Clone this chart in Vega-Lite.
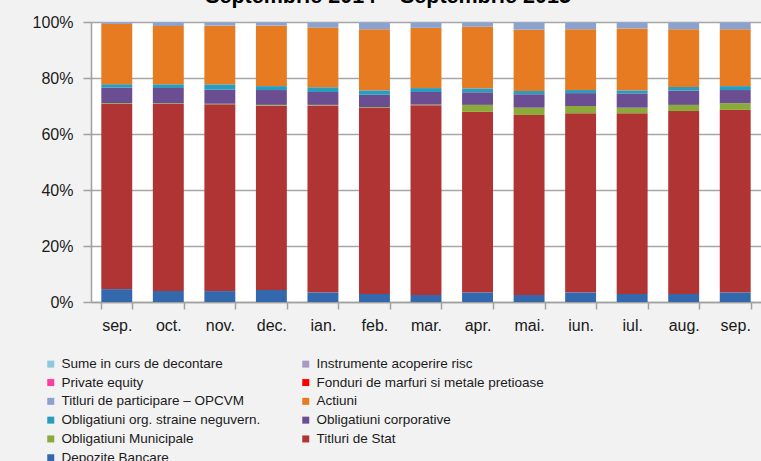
{
  "$schema": "https://vega.github.io/schema/vega-lite/v6.json",
  "autosize": {"type": "none"},
  "width": 670,
  "height": 280,
  "padding": {"left": 91, "top": 22, "right": 0, "bottom": 159},
  "background": "#f2f2f2",
  "title": {
    "text": "Septembrie 2014 – Septembrie 2015",
    "frame": "group",
    "font": "Liberation Sans",
    "fontSize": 21.5,
    "fontWeight": "bold",
    "color": "#000000",
    "baseline": "alphabetic",
    "offset": 2,
    "dx": -38,
    "dy": 12
  },
  "datasets": {
    "rank": [
      {"cat": "Depozite Bancare", "k": 1},
      {"cat": "Titluri de Stat", "k": 2},
      {"cat": "Obligatiuni Municipale", "k": 3},
      {"cat": "Obligatiuni corporative", "k": 4},
      {"cat": "Obligatiuni org. straine neguvern.", "k": 5},
      {"cat": "Actiuni", "k": 6},
      {"cat": "Fonduri de marfuri si metale pretioase", "k": 7},
      {"cat": "Titluri de participare – OPCVM", "k": 8},
      {"cat": "Private equity", "k": 9},
      {"cat": "Instrumente acoperire risc", "k": 10},
      {"cat": "Sume in curs de decontare", "k": 11}
    ]
  },
  "data": {
    "values": [
      {"luna": "sep.|2014", "cat": "Depozite Bancare", "v": 4.6},
      {"luna": "sep.|2014", "cat": "Titluri de Stat", "v": 66.1},
      {"luna": "sep.|2014", "cat": "Obligatiuni Municipale", "v": 0.3},
      {"luna": "sep.|2014", "cat": "Obligatiuni corporative", "v": 5.5},
      {"luna": "sep.|2014", "cat": "Obligatiuni org. straine neguvern.", "v": 1.25},
      {"luna": "sep.|2014", "cat": "Actiuni", "v": 21.5},
      {"luna": "sep.|2014", "cat": "Titluri de participare – OPCVM", "v": 0.5},
      {"luna": "sep.|2014", "cat": "Instrumente acoperire risc", "v": 0.1},
      {"luna": "sep.|2014", "cat": "Sume in curs de decontare", "v": 0.1},

      {"luna": "oct.|2014", "cat": "Depozite Bancare", "v": 3.9},
      {"luna": "oct.|2014", "cat": "Titluri de Stat", "v": 66.8},
      {"luna": "oct.|2014", "cat": "Obligatiuni Municipale", "v": 0.3},
      {"luna": "oct.|2014", "cat": "Obligatiuni corporative", "v": 5.4},
      {"luna": "oct.|2014", "cat": "Obligatiuni org. straine neguvern.", "v": 1.35},
      {"luna": "oct.|2014", "cat": "Actiuni", "v": 20.85},
      {"luna": "oct.|2014", "cat": "Titluri de participare – OPCVM", "v": 1.2},
      {"luna": "oct.|2014", "cat": "Instrumente acoperire risc", "v": 0.1},
      {"luna": "oct.|2014", "cat": "Sume in curs de decontare", "v": 0.1},

      {"luna": "nov.|2014", "cat": "Depozite Bancare", "v": 3.9},
      {"luna": "nov.|2014", "cat": "Titluri de Stat", "v": 66.7},
      {"luna": "nov.|2014", "cat": "Obligatiuni Municipale", "v": 0.2},
      {"luna": "nov.|2014", "cat": "Obligatiuni corporative", "v": 5.0},
      {"luna": "nov.|2014", "cat": "Obligatiuni org. straine neguvern.", "v": 1.95},
      {"luna": "nov.|2014", "cat": "Actiuni", "v": 20.95},
      {"luna": "nov.|2014", "cat": "Titluri de participare – OPCVM", "v": 1.1},
      {"luna": "nov.|2014", "cat": "Instrumente acoperire risc", "v": 0.1},
      {"luna": "nov.|2014", "cat": "Sume in curs de decontare", "v": 0.1},

      {"luna": "dec.|2014", "cat": "Depozite Bancare", "v": 4.3},
      {"luna": "dec.|2014", "cat": "Titluri de Stat", "v": 65.8},
      {"luna": "dec.|2014", "cat": "Obligatiuni Municipale", "v": 0.3},
      {"luna": "dec.|2014", "cat": "Obligatiuni corporative", "v": 5.3},
      {"luna": "dec.|2014", "cat": "Obligatiuni org. straine neguvern.", "v": 1.4},
      {"luna": "dec.|2014", "cat": "Actiuni", "v": 21.6},
      {"luna": "dec.|2014", "cat": "Titluri de participare – OPCVM", "v": 1.1},
      {"luna": "dec.|2014", "cat": "Instrumente acoperire risc", "v": 0.1},
      {"luna": "dec.|2014", "cat": "Sume in curs de decontare", "v": 0.1},

      {"luna": "ian.|2015", "cat": "Depozite Bancare", "v": 3.45},
      {"luna": "ian.|2015", "cat": "Titluri de Stat", "v": 66.75},
      {"luna": "ian.|2015", "cat": "Obligatiuni Municipale", "v": 0.2},
      {"luna": "ian.|2015", "cat": "Obligatiuni corporative", "v": 4.6},
      {"luna": "ian.|2015", "cat": "Obligatiuni org. straine neguvern.", "v": 1.7},
      {"luna": "ian.|2015", "cat": "Actiuni", "v": 21.3},
      {"luna": "ian.|2015", "cat": "Titluri de participare – OPCVM", "v": 1.8},
      {"luna": "ian.|2015", "cat": "Instrumente acoperire risc", "v": 0.1},
      {"luna": "ian.|2015", "cat": "Sume in curs de decontare", "v": 0.1},

      {"luna": "feb.|2015", "cat": "Depozite Bancare", "v": 2.85},
      {"luna": "feb.|2015", "cat": "Titluri de Stat", "v": 66.45},
      {"luna": "feb.|2015", "cat": "Obligatiuni Municipale", "v": 0.3},
      {"luna": "feb.|2015", "cat": "Obligatiuni corporative", "v": 4.4},
      {"luna": "feb.|2015", "cat": "Obligatiuni org. straine neguvern.", "v": 1.6},
      {"luna": "feb.|2015", "cat": "Actiuni", "v": 21.8},
      {"luna": "feb.|2015", "cat": "Titluri de participare – OPCVM", "v": 2.4},
      {"luna": "feb.|2015", "cat": "Instrumente acoperire risc", "v": 0.1},
      {"luna": "feb.|2015", "cat": "Sume in curs de decontare", "v": 0.1},

      {"luna": "mar.|2015", "cat": "Depozite Bancare", "v": 2.5},
      {"luna": "mar.|2015", "cat": "Titluri de Stat", "v": 67.8},
      {"luna": "mar.|2015", "cat": "Obligatiuni Municipale", "v": 0.2},
      {"luna": "mar.|2015", "cat": "Obligatiuni corporative", "v": 4.5},
      {"luna": "mar.|2015", "cat": "Obligatiuni org. straine neguvern.", "v": 1.4},
      {"luna": "mar.|2015", "cat": "Actiuni", "v": 21.5},
      {"luna": "mar.|2015", "cat": "Titluri de participare – OPCVM", "v": 1.9},
      {"luna": "mar.|2015", "cat": "Instrumente acoperire risc", "v": 0.1},
      {"luna": "mar.|2015", "cat": "Sume in curs de decontare", "v": 0.1},

      {"luna": "apr.|2015", "cat": "Depozite Bancare", "v": 3.45},
      {"luna": "apr.|2015", "cat": "Titluri de Stat", "v": 64.45},
      {"luna": "apr.|2015", "cat": "Obligatiuni Municipale", "v": 2.5},
      {"luna": "apr.|2015", "cat": "Obligatiuni corporative", "v": 4.5},
      {"luna": "apr.|2015", "cat": "Obligatiuni org. straine neguvern.", "v": 1.4},
      {"luna": "apr.|2015", "cat": "Actiuni", "v": 22.0},
      {"luna": "apr.|2015", "cat": "Titluri de participare – OPCVM", "v": 1.5},
      {"luna": "apr.|2015", "cat": "Instrumente acoperire risc", "v": 0.1},
      {"luna": "apr.|2015", "cat": "Sume in curs de decontare", "v": 0.1},

      {"luna": "mai.|2015", "cat": "Depozite Bancare", "v": 2.5},
      {"luna": "mai.|2015", "cat": "Titluri de Stat", "v": 64.3},
      {"luna": "mai.|2015", "cat": "Obligatiuni Municipale", "v": 2.6},
      {"luna": "mai.|2015", "cat": "Obligatiuni corporative", "v": 4.8},
      {"luna": "mai.|2015", "cat": "Obligatiuni org. straine neguvern.", "v": 1.2},
      {"luna": "mai.|2015", "cat": "Actiuni", "v": 21.85},
      {"luna": "mai.|2015", "cat": "Titluri de participare – OPCVM", "v": 2.55},
      {"luna": "mai.|2015", "cat": "Instrumente acoperire risc", "v": 0.1},
      {"luna": "mai.|2015", "cat": "Sume in curs de decontare", "v": 0.1},

      {"luna": "iun.|2015", "cat": "Depozite Bancare", "v": 3.45},
      {"luna": "iun.|2015", "cat": "Titluri de Stat", "v": 63.95},
      {"luna": "iun.|2015", "cat": "Obligatiuni Municipale", "v": 2.6},
      {"luna": "iun.|2015", "cat": "Obligatiuni corporative", "v": 4.6},
      {"luna": "iun.|2015", "cat": "Obligatiuni org. straine neguvern.", "v": 1.1},
      {"luna": "iun.|2015", "cat": "Actiuni", "v": 21.7},
      {"luna": "iun.|2015", "cat": "Titluri de participare – OPCVM", "v": 2.4},
      {"luna": "iun.|2015", "cat": "Instrumente acoperire risc", "v": 0.1},
      {"luna": "iun.|2015", "cat": "Sume in curs de decontare", "v": 0.1},

      {"luna": "iul.|2015", "cat": "Depozite Bancare", "v": 2.85},
      {"luna": "iul.|2015", "cat": "Titluri de Stat", "v": 64.55},
      {"luna": "iul.|2015", "cat": "Obligatiuni Municipale", "v": 2.0},
      {"luna": "iul.|2015", "cat": "Obligatiuni corporative", "v": 5.1},
      {"luna": "iul.|2015", "cat": "Obligatiuni org. straine neguvern.", "v": 1.1},
      {"luna": "iul.|2015", "cat": "Actiuni", "v": 22.1},
      {"luna": "iul.|2015", "cat": "Titluri de participare – OPCVM", "v": 2.1},
      {"luna": "iul.|2015", "cat": "Instrumente acoperire risc", "v": 0.1},
      {"luna": "iul.|2015", "cat": "Sume in curs de decontare", "v": 0.1},

      {"luna": "aug.|2015", "cat": "Depozite Bancare", "v": 2.85},
      {"luna": "aug.|2015", "cat": "Titluri de Stat", "v": 65.35},
      {"luna": "aug.|2015", "cat": "Obligatiuni Municipale", "v": 2.2},
      {"luna": "aug.|2015", "cat": "Obligatiuni corporative", "v": 5.1},
      {"luna": "aug.|2015", "cat": "Obligatiuni org. straine neguvern.", "v": 1.3},
      {"luna": "aug.|2015", "cat": "Actiuni", "v": 20.6},
      {"luna": "aug.|2015", "cat": "Titluri de participare – OPCVM", "v": 2.4},
      {"luna": "aug.|2015", "cat": "Instrumente acoperire risc", "v": 0.1},
      {"luna": "aug.|2015", "cat": "Sume in curs de decontare", "v": 0.1},

      {"luna": "sep.|2015", "cat": "Depozite Bancare", "v": 3.45},
      {"luna": "sep.|2015", "cat": "Titluri de Stat", "v": 65.15},
      {"luna": "sep.|2015", "cat": "Obligatiuni Municipale", "v": 2.4},
      {"luna": "sep.|2015", "cat": "Obligatiuni corporative", "v": 4.7},
      {"luna": "sep.|2015", "cat": "Obligatiuni org. straine neguvern.", "v": 1.4},
      {"luna": "sep.|2015", "cat": "Actiuni", "v": 20.3},
      {"luna": "sep.|2015", "cat": "Titluri de participare – OPCVM", "v": 2.4},
      {"luna": "sep.|2015", "cat": "Instrumente acoperire risc", "v": 0.1},
      {"luna": "sep.|2015", "cat": "Sume in curs de decontare", "v": 0.1}
    ]
  },
  "transform": [
    {"lookup": "cat", "from": {"data": {"name": "rank"}, "key": "cat", "fields": ["k"]}}
  ],
  "mark": {"type": "bar"},
  "encoding": {
    "x": {
      "field": "luna",
      "type": "ordinal",
      "sort": null,
      "scale": {"paddingInner": 0.4, "paddingOuter": 0.2},
      "axis": {
        "title": null,
        "labelExpr": "split(datum.label, '|')[0]",
        "labelAngle": 0,
        "labelFont": "Liberation Sans",
        "labelFontSize": 16,
        "labelColor": "#1a1a1a",
        "labelPadding": 8,
        "tickBand": "extent",
        "tickSize": 7,
        "tickColor": "#a0a0a0",
        "tickWidth": 1.5,
        "domainColor": "#a0a0a0",
        "domainWidth": 1.5,
        "grid": false
      }
    },
    "y": {
      "field": "v",
      "type": "quantitative",
      "stack": "normalize",
      "scale": {"domain": [0, 1], "nice": false},
      "axis": {
        "title": null,
        "values": [0, 0.2, 0.4, 0.6, 0.8, 1],
        "format": ".0%",
        "labelFont": "Liberation Sans",
        "labelFontSize": 16,
        "labelColor": "#1a1a1a",
        "labelPadding": 10,
        "tickSize": 8,
        "tickColor": "#a0a0a0",
        "tickWidth": 1.5,
        "domainColor": "#a0a0a0",
        "domainWidth": 1.5,
        "grid": true,
        "gridColor": "#a6a6a6",
        "gridWidth": 1.5
      }
    },
    "order": {"field": "k", "type": "quantitative", "sort": "ascending"},
    "color": {
      "field": "cat",
      "type": "nominal",
      "scale": {
        "domain": ["Sume in curs de decontare", "Private equity", "Titluri de participare – OPCVM", "Obligatiuni org. straine neguvern.", "Obligatiuni Municipale", "Depozite Bancare", "Instrumente acoperire risc", "Fonduri de marfuri si metale pretioase", "Actiuni", "Obligatiuni corporative", "Titluri de Stat"],
        "range": ["#8dc8dc", "#ff3ca0", "#8ba2cf", "#2b9cbd", "#8aaa3a", "#3468ad", "#a89ac6", "#ff0000", "#e67b22", "#6b4e92", "#b03434"]
      },
      "legend": {
        "title": null,
        "orient": "none",
        "legendX": -47,
        "legendY": 335,
        "columns": 2,
        "columnPadding": 38,
        "rowPadding": 3.8,
        "padding": 0,
        "symbolType": "square",
        "symbolSize": 49,
        "symbolStrokeWidth": 0,
        "labelOffset": 4,
        "labelFont": "Liberation Sans",
        "labelFontSize": 13.5,
        "labelColor": "#1a1a1a",
        "labelLimit": 400
      }
    }
  },
  "config": {
    "view": {"fill": "#ffffff", "stroke": null}
  }
}
